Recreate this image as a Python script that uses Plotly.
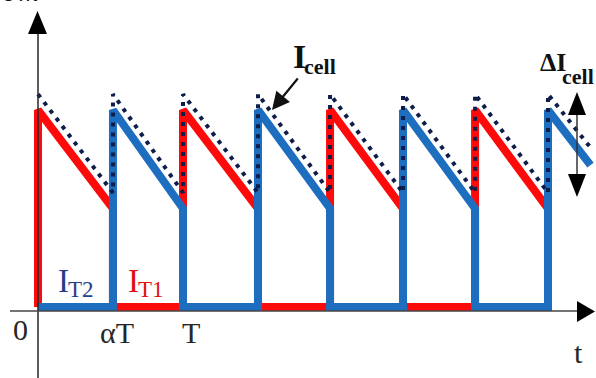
import plotly.graph_objects as go

# Switching instants in units of the period T (phase currents alternate T1 / T2)
pulse_start = [0.0, 0.517, 1.0, 1.517, 2.014, 2.517, 3.014, 3.517]
pulse_end = [0.517, 1.0, 1.517, 2.014, 2.517, 3.014, 3.517, 3.81]
pulse_phase = ["T1", "T2", "T1", "T2", "T1", "T2", "T1", "T2"]
pulse_peak = [1.0, 1.0, 1.0, 1.0, 1.0, 1.0, 1.0, 1.0]
pulse_low = [0.5, 0.5, 0.5, 0.5, 0.5, 0.5, 0.5, 0.72]

# Cell current envelope (dotted)
cell_peak = [1.08, 1.08, 1.08, 1.08, 1.08, 1.08, 1.08, 1.08]
cell_low = [0.58, 0.58, 0.58, 0.58, 0.58, 0.58, 0.58, 0.80]
cell_end = [0.517, 1.0, 1.517, 2.014, 2.517, 3.014, 3.517, 3.82]

tick_labels = ["0", "αT", "T"]
tick_pos = [0.0, 0.517, 1.0]

W, H = 596, 378
RED = "#ff0a0a"
BLUE = "#1e6ec0"
DOT = "#0f1d4a"
INK = "#262626"
SERIF = "Liberation Serif, Times New Roman, serif"


def phase_path(name):
    xs, ys = [], []
    if name == "T2":
        xs.append(0.0)
        ys.append(0.0)
    for s, e, ph, pk, lo in zip(pulse_start, pulse_end, pulse_phase, pulse_peak, pulse_low):
        if ph != name:
            continue
        xs += [s, s, e]
        ys += [0.0, pk, lo]
        if e < pulse_end[-1]:
            xs.append(e)
            ys.append(0.0)
    return xs, ys


def cell_path():
    xs, ys = [], []
    for s, e, pk, lo in zip(pulse_start, cell_end, cell_peak, cell_low):
        xs += [s, e]
        ys += [pk, lo]
    return xs, ys


def P(px, py):
    return px / W, 1 - py / H


fig = go.Figure()

rx, ry = phase_path("T1")
bx, by = phase_path("T2")
cx, cy = cell_path()

fig.add_trace(go.Scatter(x=rx, y=ry, mode="lines",
                         line=dict(color=RED, width=8), hoverinfo="skip"))
fig.add_trace(go.Scatter(x=bx, y=by, mode="lines",
                         line=dict(color=BLUE, width=8), hoverinfo="skip"))
fig.add_trace(go.Scatter(x=cx, y=cy, mode="lines",
                         line=dict(color=DOT, width=4, dash="4px,6px"), hoverinfo="skip"))

shapes = []


def tri(p0, p1, p2):
    return dict(type="path", xref="paper", yref="paper",
                path="M %f %f L %f %f L %f %f Z" % (p0 + p1 + p2),
                fillcolor="#000", line=dict(width=0))


def seg(a, b, color, width=1.5):
    return dict(type="line", xref="paper", yref="paper",
                x0=a[0], y0=a[1], x1=b[0], y1=b[1],
                line=dict(color=color, width=width))


# vertical axis with arrowhead
shapes.append(seg(P(38, 378), P(38, 30), INK))
shapes.append(tri(P(37.5, 11), P(28, 34), P(47, 34)))
# horizontal axis with arrowhead
shapes.append(seg(P(10, 311), P(580, 311), "#444"))
shapes.append(tri(P(595, 311.5), P(577, 301), P(577, 322)))
# double arrow for the ripple amplitude
shapes.append(seg(P(577, 110), P(577, 180), "#333"))
shapes.append(tri(P(577, 92), P(568, 115), P(586, 115)))
shapes.append(tri(P(577, 197), P(568, 174), P(586, 174)))

ann = []


def label(text, px, py, size, color=INK, bold=False, xanchor="center", yanchor="middle"):
    x, y = P(px, py)
    ann.append(dict(text=text, x=x, y=y, xref="paper", yref="paper", showarrow=False,
                    xanchor=xanchor, yanchor=yanchor,
                    font=dict(family=SERIF, size=size, color=color,
                              weight="bold" if bold else "normal")))


# tick labels under the time axis
for txt, t in zip(tick_labels, tick_pos):
    px = 38 + t * 145
    if txt == "0":
        label(txt, 20, 329, 30)
    elif txt == "T":
        label(txt, px + 8, 332, 30)
    else:
        label(txt, px + 4, 332, 30)
label("t", 578, 352, 30)

# phase current labels
label("I", 56, 281, 33, color="#233f88", xanchor="left")
label("T2", 66, 289, 23, color="#233f88", xanchor="left")
label("I", 126, 281, 33, color="#e01010", xanchor="left")
label("T1", 136, 289, 23, color="#e01010", xanchor="left")

# cell current labels
label("I", 291, 56, 34, color="#111", bold=True, xanchor="left")
label("cell", 302, 66, 22, color="#111", bold=True, xanchor="left")
label("ΔI", 538, 63, 26, color="#111", bold=True, xanchor="left")
label("cell", 560, 76, 22, color="#111", bold=True, xanchor="left")

# trailing text from the surrounding paragraph
label("ow.", 0, -7, 26, color="#111", bold=True, xanchor="left")

# pointer to the cell current
tx, ty = P(272, 110)
ann.append(dict(text="", x=tx, y=ty, xref="paper", yref="paper", showarrow=True,
                ax=27, ay=-33, arrowhead=2, arrowsize=1.6, arrowwidth=2.2,
                arrowcolor="#111"))

fig.update_layout(
    width=W, height=H, autosize=False,
    margin=dict(l=0, r=0, t=0, b=0),
    paper_bgcolor="white", plot_bgcolor="white",
    showlegend=False,
    xaxis=dict(range=[-0.262, 3.848], visible=False, fixedrange=True),
    yaxis=dict(range=[-0.36, 1.558], visible=False, fixedrange=True),
    shapes=shapes, annotations=ann,
)

fig.write_html("out.html")
